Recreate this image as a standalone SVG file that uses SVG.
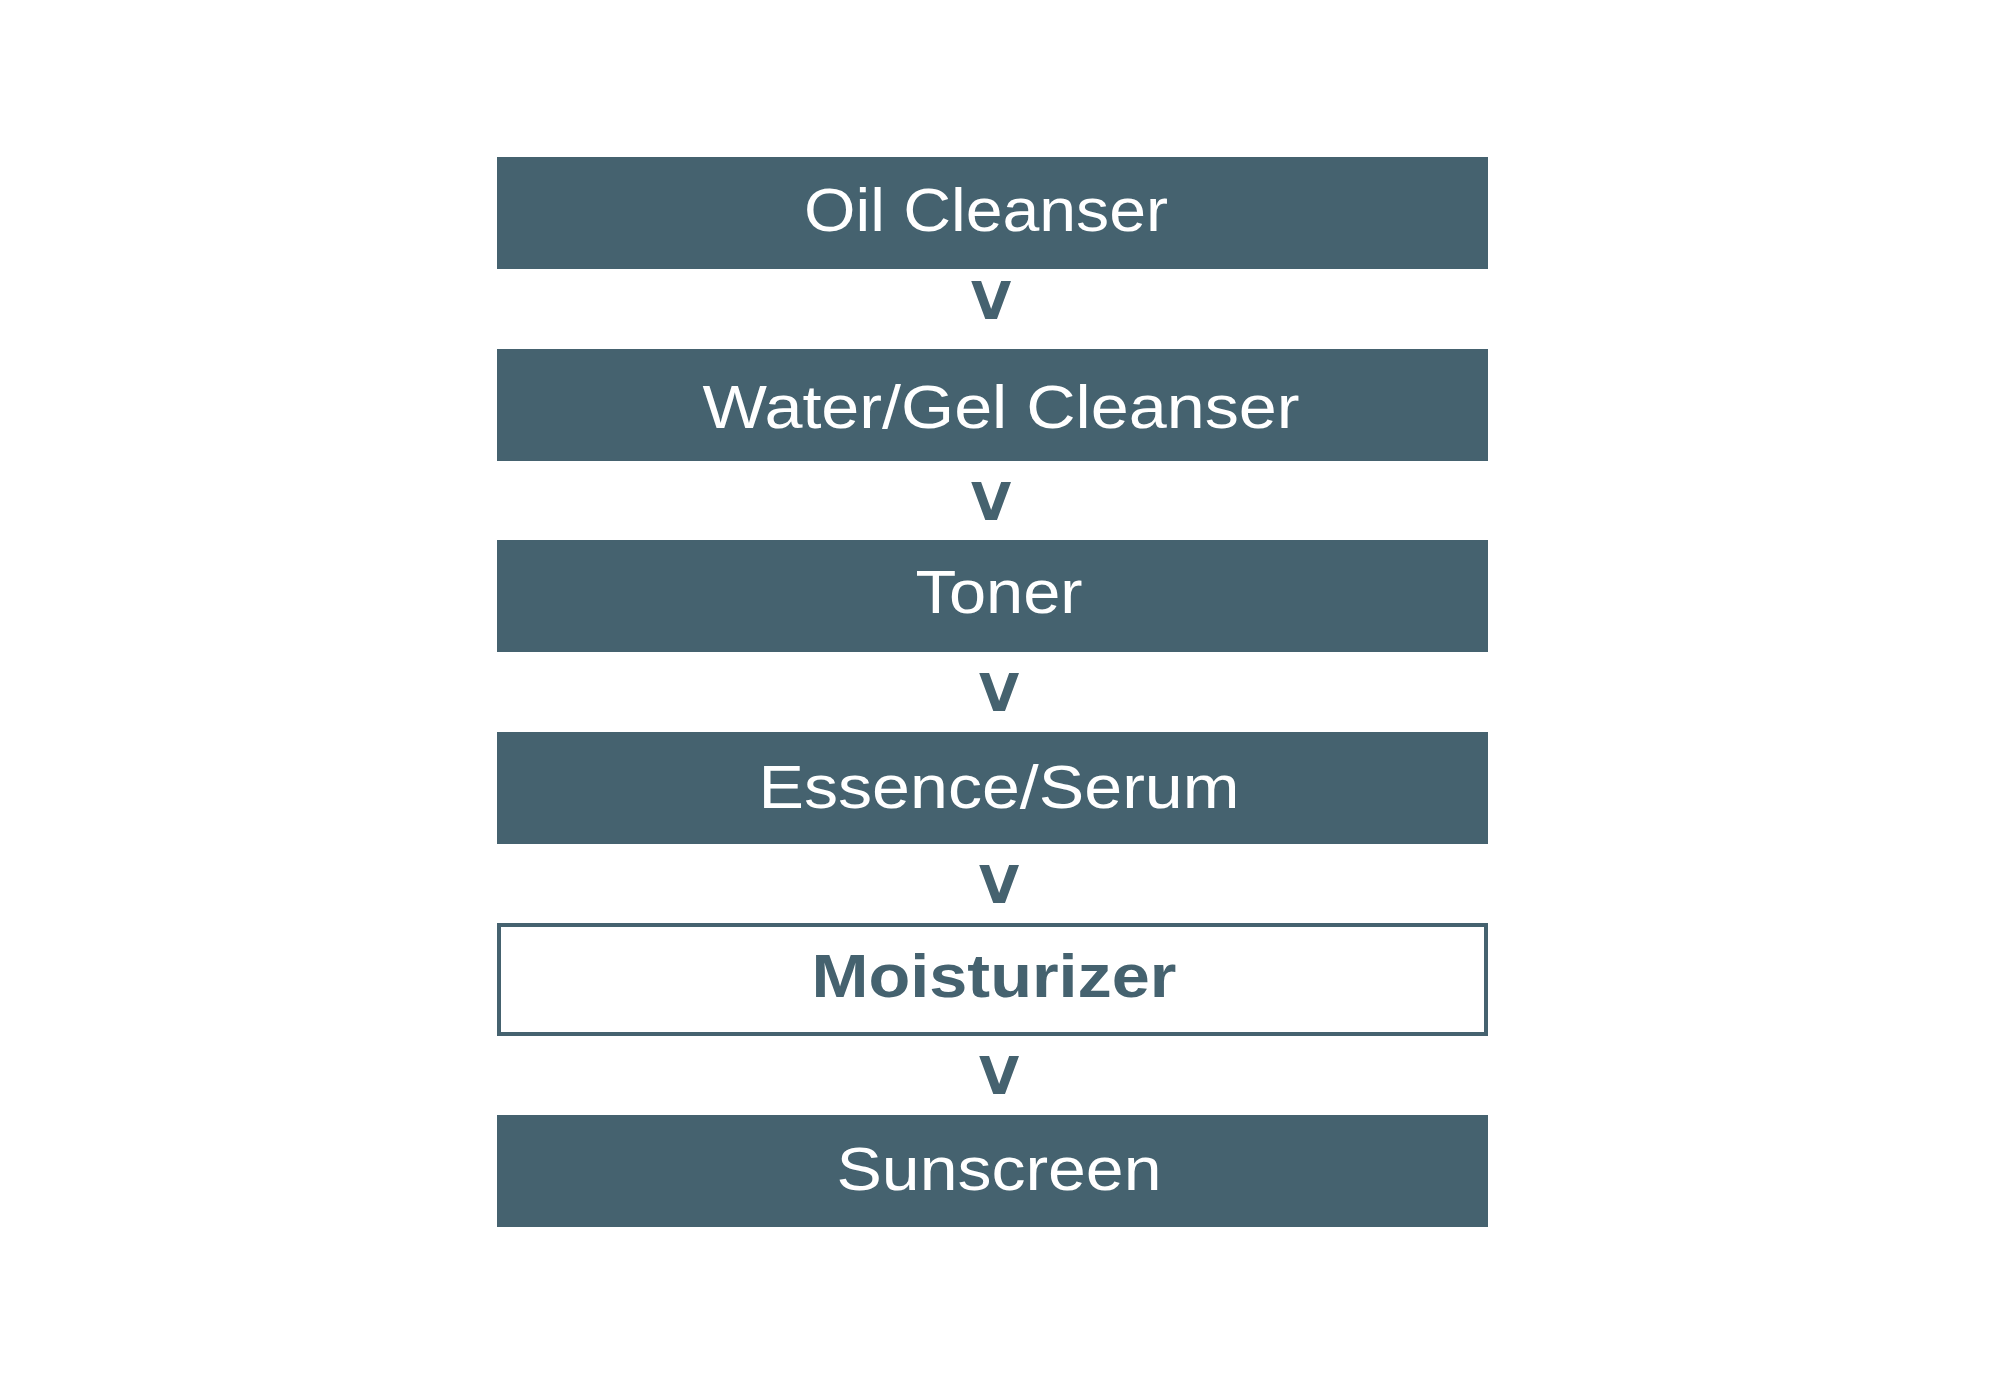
<svg xmlns="http://www.w3.org/2000/svg" width="2000" height="1400" viewBox="0 0 2000 1400">
<style>
.box{fill:#45626f}
.outline{fill:#ffffff;stroke:#45626f;stroke-width:4}
.lbl{font-family:"Liberation Sans",Arial,sans-serif;font-size:62px;fill:#ffffff;text-anchor:middle}
.bold{font-family:"Liberation Sans",Arial,sans-serif;font-size:62px;font-weight:bold;fill:#45626f;text-anchor:middle}
.arr{font-family:"DejaVu Sans",sans-serif;font-size:52px;font-weight:bold;fill:#45626f;text-anchor:middle}
</style>
<rect x="0" y="0" width="2000" height="1400" fill="#ffffff"/>
<g id="connectors">
<text class="arr" x="991" y="319">V</text>
<text class="arr" x="991" y="520">V</text>
<text class="arr" x="999" y="711">V</text>
<text class="arr" x="999" y="903">V</text>
<text class="arr" x="999" y="1094">V</text>
</g>
<g id="oil-cleanser">
<rect class="box" x="497" y="157" width="991" height="112"/>
<text class="lbl" x="986" y="231" textLength="364" lengthAdjust="spacingAndGlyphs">Oil Cleanser</text>
</g>
<g id="water-gel-cleanser">
<rect class="box" x="497" y="349" width="991" height="112"/>
<text class="lbl" x="1001" y="428" textLength="597" lengthAdjust="spacingAndGlyphs">Water/Gel Cleanser</text>
</g>
<g id="toner">
<rect class="box" x="497" y="540" width="991" height="112"/>
<text class="lbl" x="999" y="613" textLength="167" lengthAdjust="spacingAndGlyphs">Toner</text>
</g>
<g id="essence-serum">
<rect class="box" x="497" y="732" width="991" height="112"/>
<text class="lbl" x="999" y="808" textLength="481" lengthAdjust="spacingAndGlyphs">Essence/Serum</text>
</g>
<g id="moisturizer">
<rect class="outline" x="499" y="925" width="987" height="109"/>
<text class="bold" x="994" y="997" textLength="365" lengthAdjust="spacingAndGlyphs">Moisturizer</text>
</g>
<g id="sunscreen">
<rect class="box" x="497" y="1115" width="991" height="112"/>
<text class="lbl" x="999" y="1190" textLength="325" lengthAdjust="spacingAndGlyphs">Sunscreen</text>
</g>
</svg>
